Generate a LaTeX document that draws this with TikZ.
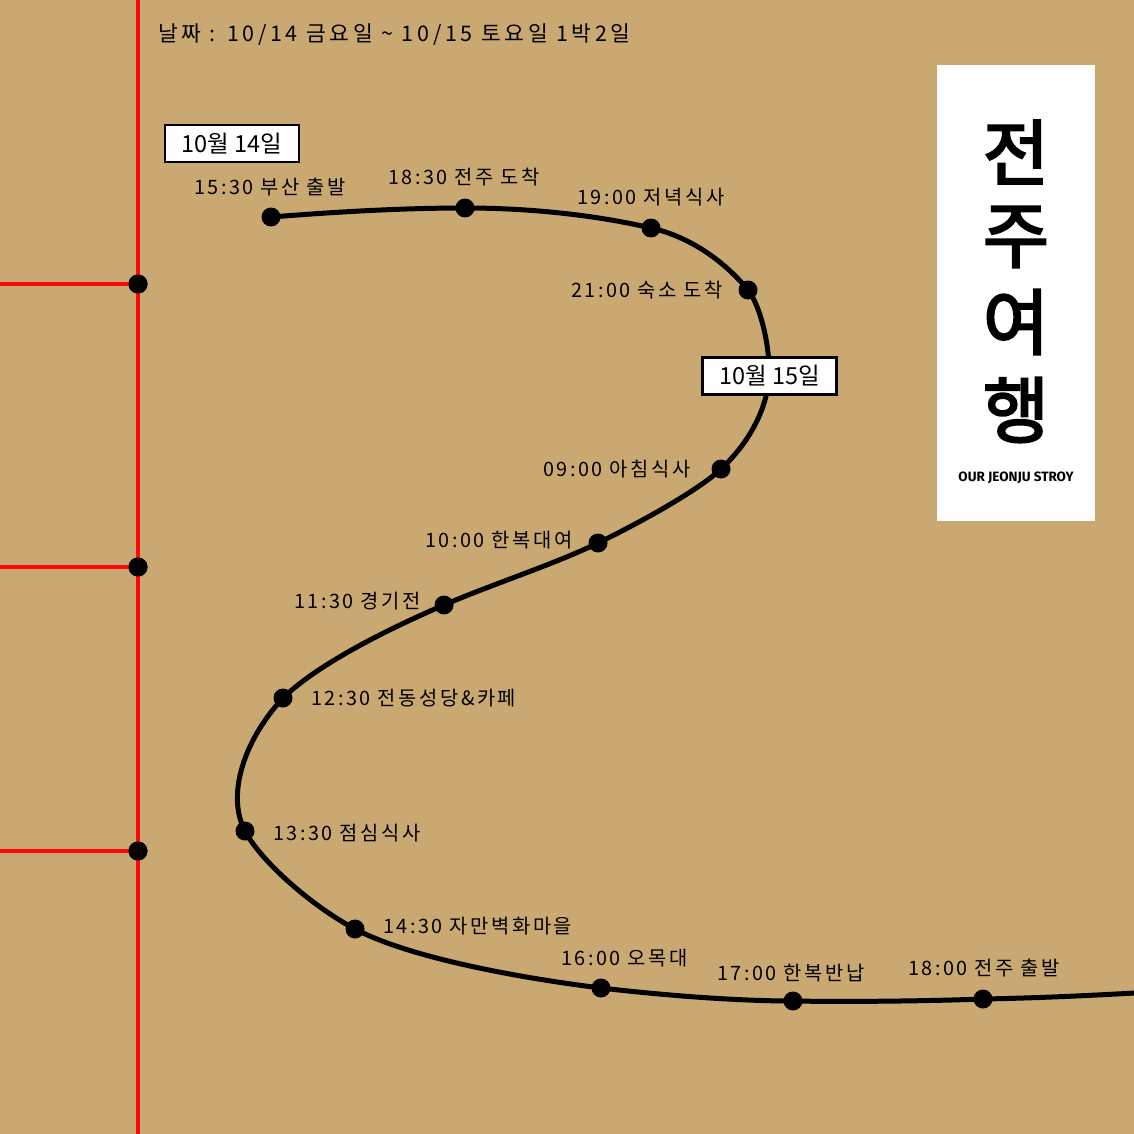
\documentclass[tikz,border=0pt]{standalone}
\usepackage{fontspec}
\setmainfont{Noto Sans CJK KR}
\newfontfamily\latinbold{Fira Sans}
\newfontfamily\bigkfont{Noto Sans CJK KR}[FakeBold=3]
\definecolor{kraft}{RGB}{201,168,114}
\definecolor{redl}{RGB}{250,10,10}
\begin{document}
\begin{tikzpicture}[x=1pt,y=-1pt,
  dot/.style={circle,fill=black,inner sep=0,minimum size=19pt},
  tdot/.style={circle,fill=black,inner sep=0,minimum size=19pt},
  lbl/.style={font=\fontsize{19.8}{22}\selectfont\addfontfeature{LetterSpace=13},inner sep=0,anchor=west},
  datebox/.style={draw=black,line width=2.5pt,fill=white,font=\fontsize{23.5}{25}\selectfont,minimum width=134pt,minimum height=37pt,inner sep=0},
  bigk/.style={font=\bigkfont\fontsize{72}{74}\selectfont,inner sep=0},
  redline/.style={draw=redl,line width=4pt},
  route/.style={draw=black,line width=5pt}]
\fill[kraft] (0,0) rectangle (1134,1134);
\useasboundingbox (0,0) rectangle (1134,1134);

% red timeline
\node[tdot] (t1) at (138,284) {};
\node[tdot] (t2) at (138,567) {};
\node[tdot] (t3) at (138,851) {};
\coordinate (rtop) at (138,0);
\coordinate (rbot) at (138,1134);
\coordinate (h1) at (0,284);
\coordinate (h2) at (0,567);
\coordinate (h3) at (0,851);
\draw[redline] (rtop.center) -- (rbot.center);
\draw[redline] (h1) -- (t1.center);
\draw[redline] (h2) -- (t2.center);
\draw[redline] (h3) -- (t3.center);
\node[tdot] at (t1) {};
\node[tdot] at (t2) {};
\node[tdot] at (t3) {};

% title
\node[font=\fontsize{21.5}{24}\selectfont\addfontfeature{LetterSpace=17},inner sep=0,anchor=west] (title) at (158,35) {날짜 : 10/14 금요일 \textasciitilde{} 10/15 토요일 1박2일};

% route points
\node[dot] (d1) at (271,217) {};
\node[dot] (d2) at (465,208) {};
\node[dot] (d3) at (651,228) {};
\node[dot] (d4) at (748,290) {};
\coordinate (c1) at (769,375);
\node[dot] (d5) at (721,469) {};
\node[dot] (d6) at (598,543) {};
\node[dot] (d7) at (444,605) {};
\node[dot] (d8) at (283,698) {};
\node[dot] (d9) at (245,831) {};
\node[dot] (d10) at (355,929) {};
\node[dot] (d11) at (601,988) {};
\node[dot] (d12) at (793,1001) {};
\node[dot] (d13) at (983,999) {};
\coordinate (e) at (1134,993);

\draw[route] (d1.center)
  .. controls (335,212) and (400,208) .. (d2.center)
  .. controls (530,208) and (595,215) .. (d3.center)
  .. controls (691,237) and (725,262) .. (d4.center)
  .. controls (760,305) and (770,345) .. (c1)
  .. controls (768,405) and (752,440) .. (d5.center)
  .. controls (700,489) and (645,520) .. (d6.center)
  .. controls (555,564) and (490,585) .. (d7.center)
  .. controls (395,626) and (320,662) .. (d8.center)
  .. controls (244,740) and (226,795) .. (d9.center)
  .. controls (260,860) and (310,905) .. (d10.center)
  .. controls (410,958) and (520,978) .. (d11.center)
  .. controls (670,996) and (740,1001) .. (d12.center)
  .. controls (850,1002) and (930,1001) .. (d13.center)
  .. controls (1040,998) and (1100,995) .. (e);

% labels
\node[lbl] (l1) at (194,187) {15:30 부산 출발};
\node[lbl] (l2) at (388,177) {18:30 전주 도착};
\node[lbl] (l3) at (577,197) {19:00 저녁식사};
\node[lbl] (l4) at (571,290) {21:00 숙소 도착};
\node[lbl] (l5) at (543,469) {09:00 아침식사};
\node[lbl] (l6) at (425,540) {10:00 한복대여};
\node[lbl] (l7) at (294,601) {11:30 경기전};
\node[lbl] (l8) at (311,698) {12:30 전동성당\&카페};
\node[lbl] (l9) at (273,833) {13:30 점심식사};
\node[lbl] (l10) at (383,926) {14:30 자만벽화마을};
\node[lbl] (l11) at (561,958) {16:00 오목대};
\node[lbl] (l12) at (717,973) {17:00 한복반납};
\node[lbl] (l13) at (908,968) {18:00 전주 출발};

% date boxes
\node[datebox] (b1) at (232,143.5) {10월 14일};
\node[datebox] (b2) at (769.5,376) {10월 15일};

% right panel
\node[fill=white,minimum width=158pt,minimum height=456pt,inner sep=0] (panel) at (1016,293) {};
\node[bigk] (k1) at (1016,152) {전};
\node[bigk] (k2) at (1016,237) {주};
\node[bigk] (k3) at (1016,322) {여};
\node[bigk] (k4) at (1016,410) {행};
\node[font=\latinbold\fontsize{13.5}{15}\selectfont\bfseries,inner sep=0] (sub) at (1016,478) {OUR JEONJU STROY};
\end{tikzpicture}
\end{document}
